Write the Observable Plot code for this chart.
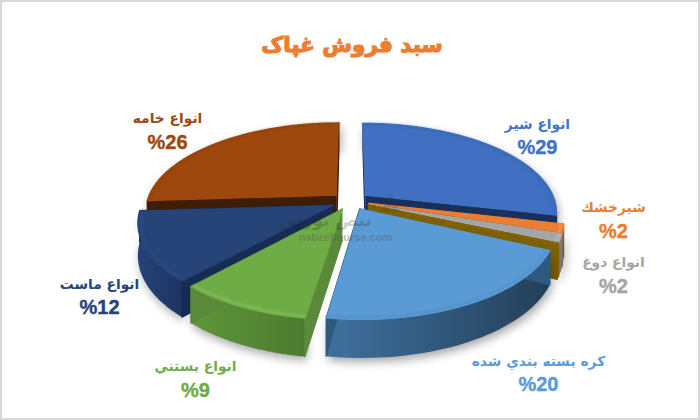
<!DOCTYPE html>
<html lang="fa">
<head>
<meta charset="utf-8">
<script src="https://cdn.jsdelivr.net/npm/d3@7"></script>
<script src="https://cdn.jsdelivr.net/npm/@observablehq/plot@0.6"></script>
<style>
html,body{margin:0;padding:0;background:#fff;}
#frame{position:relative;width:700px;height:420px;overflow:hidden;background:#fff;}
#frame::after{content:"";position:absolute;inset:0;border:2px solid #d9d9d9;pointer-events:none;}
#title{height:62px;padding-left:4px;text-align:center;font:bold 21.5px/90px "DejaVu Sans",sans-serif;color:#ed7d31;direction:rtl;-webkit-text-stroke:1.2px #ed7d31;}
svg{display:block;}
</style>
</head>
<body>
<div id="frame"><div id="title">سبد فروش غپاک</div><div id="chart"></div></div>
<script>
// Data. Clockwise from 12 o'clock.
const categories = ["انواع شير","شيرخشك","انواع دوغ","","كره بسته بندي شده","انواع بستني","انواع ماست","انواع خامه"];
const shares     = [28.6, 1.5, 1.5, 0.4, 20.4, 9.3, 12.3, 26];
const topColors  = ["#4170c2","#ed7d31","#a5a5a5","#846104","#5b9bd5","#6fac46","#264478","#9e480e"];
const cutColors  = ["#1a305c","#a85518","#7c7c7c","#7f6000","#2f5a80","#5a8a39","#172c54","#3f1d05"];
const rimColors  = ["#3565b0","#f4a26a","#c4c4c4","#8f6a08","#4f8cc4","#8cc666","#2f4e87","#8f420d"];
const wallStops  = [
  ["#2c4f8c","#2f5597"],["#b8601f","#9a4f18"],["#8a8a8a","#6e6e6e"],["#7f6000","#6f5400"],
  ["#3f719e","#233f58"],["#5e973a","#4d7a30"],["#24437a","#1c3461"],["#6a300a","#5a2808"]
];
const paintOrder = [0,7,1,2,3,6,5,4];
const labelColors = ["#4472c4","#ed7d31","#a5a5a5","#000","#5b9bd5","#70ad47","#264478","#9e480e"];
const labelSpots  = [[0.984,-0.746],[1.384,0.211],[1.384,0.841],[0,0],[0.989,1.969],[-0.816,2.032],[-1.321,1.087],[-0.963,-0.808]];

// View model of the 3D exploded pie
const explode = 0.1, depthK = 0.181, thickness = 0.355;
const project = (u, v, z = 0) => { const s = 1/(1 - depthK*v); return {x: u*s, y: (v + z)*s}; };

const total = d3.sum(shares);
let run = 0;
const slices = shares.map((value, i) => {
  const t0 = run/total*2*Math.PI; run += value; const t1 = run/total*2*Math.PI;
  const mid = (t0+t1)/2, ox = explode*Math.sin(mid), oy = -explode*Math.cos(mid);
  const arc = (r, z) => d3.range(0, 41).map(j => {
    const t = t0 + (t1-t0)*j/40;
    return project(ox + r*Math.sin(t), oy - r*Math.cos(t), z);
  });
  const top = arc(1,0), bot = arc(1,thickness);
  const a0 = project(ox,oy,0), a1 = project(ox,oy,thickness);
  return {
    i, value, name: categories[i],
    top: [a0, ...top],
    wall: [...top, ...bot.slice().reverse()],
    cutA: [a0, top[0], bot[0], a1],
    cutB: [a0, top[40], bot[40], a1],
    rim: arc(0.985,0)
  };
});

const poly = (pts, fill, extra = {}) => Plot.line(pts, {x:"x", y:"y", fill, stroke:fill, strokeWidth:1.2, ...extra});

const defs = () => {
  const d = d3.create("svg:defs");
  wallStops.forEach((st,i) => {
    const g = d.append("linearGradient").attr("id","wall"+i).attr("x1",0).attr("x2",1).attr("y1",0).attr("y2",0);
    g.append("stop").attr("offset","0%").attr("stop-color",st[0]);
    g.append("stop").attr("offset","100%").attr("stop-color",st[1]);
  });
  return d.node();
};

const sliceMarks = paintOrder.flatMap(i => {
  const s = slices[i];
  return [
    Plot.line(s.wall, {x:"x", y:"y", fill:`url(#wall${i})`, stroke:"none",
      imageFilter:"drop-shadow(2px 4px 5px rgba(0,0,0,.35))"}),
    poly(s.cutA, cutColors[i]),
    poly(s.cutB, cutColors[i]),
    poly(s.top, topColors[i]),
    Plot.line(s.rim, {x:"x", y:"y", stroke:rimColors[i], strokeWidth:2, strokeOpacity:.7, imageFilter:"blur(1.2px)"})
  ];
});

const labelData = slices.filter(s => s.name).map(s => ({
  name: s.name, pct: `%${Math.round(s.value)}`, color: labelColors[s.i],
  x: labelSpots[s.i][0], y: labelSpots[s.i][1]
}));

const plot = Plot.plot({
  width: 700, height: 358,
  margin: 0,
  x: {domain:[-350/190, 350/190], range:[0,700], axis:null},
  y: {domain:[-138.6/87.3, 219.4/87.3], range:[0,358], axis:null},
  marks: [
    defs,
    ...sliceMarks,
    Plot.text(labelData, {x:"x", y:"y", text:"name", fill:"color", dy:-11.5, fontSize:13.8,
      fontFamily:"DejaVu Sans", fontWeight:"bold"}),
    Plot.text(labelData, {x:"x", y:"y", text:"pct", fill:"color", stroke:"color", strokeWidth:0.4, dy:12, fontSize:20,
      fontFamily:"Liberation Sans", fontWeight:"bold"}),
    Plot.text(["▲"], {frameAnchor:"top-left", textAnchor:"middle", dx:390, dy:128, text:d=>d, fill:"#222", fillOpacity:.14,
      fontSize:26, fontFamily:"DejaVu Sans"}),
    Plot.text(["نبض بورس"], {frameAnchor:"top-left", textAnchor:"middle", dx:325, dy:151, text:d=>d, fill:"#222", fillOpacity:.22,
      fontSize:17, fontWeight:"bold", fontFamily:"DejaVu Sans"}),
    Plot.text(["nabzebourse.com"], {frameAnchor:"top-left", textAnchor:"middle", dx:345, dy:171, text:d=>d, fill:"#555", fillOpacity:.4,
      fontSize:11, fontWeight:"bold", fontFamily:"Liberation Sans"})
  ]
});
document.getElementById("chart").append(plot);
</script>
</body>
</html>
